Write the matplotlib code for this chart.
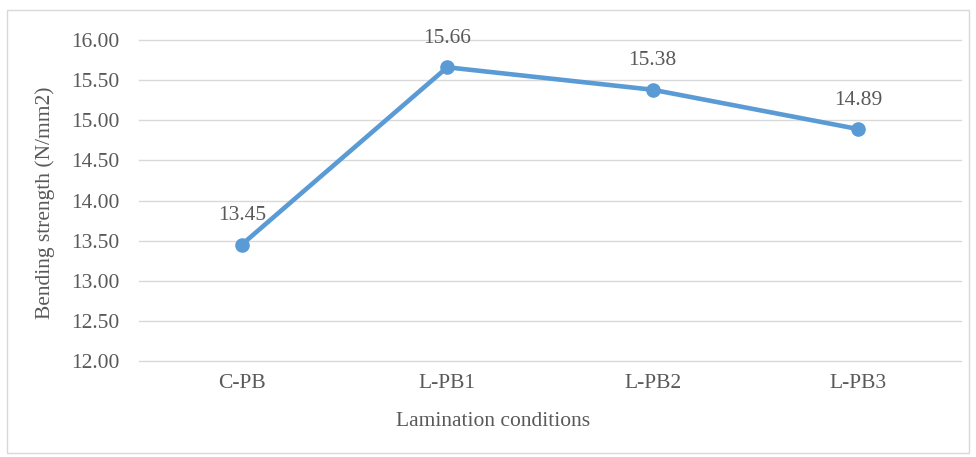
import matplotlib.pyplot as plt
from matplotlib.patches import Rectangle

# data
conditions = ["C-PB", "L-PB1", "L-PB2", "L-PB3"]
strength = [13.45, 15.66, 15.38, 14.89]
y_ticks = [12.00, 12.50, 13.00, 13.50, 14.00, 14.50, 15.00, 15.50, 16.00]

plt.rcParams['font.family'] = ['Liberation Serif', 'DejaVu Serif']
text_col = '#595959'
line_col = '#5B9BD5'
fs = 15.5

fig = plt.figure(figsize=(9.76, 4.57), dpi=100)
ax = fig.add_axes([139 / 976, 1 - 361 / 457, 822 / 976, 321 / 457])

# outer chart border
fig.patches.append(Rectangle((7 / 976, 4 / 457), 962 / 976, 443 / 457,
                             transform=fig.transFigure, fill=False,
                             edgecolor='#D9D9D9', linewidth=1))

x = list(range(len(conditions)))
ax.plot(x, strength, color=line_col, linewidth=3.3, marker='o',
        markersize=9.5, solid_capstyle='round', zorder=3)
for xi, yi in zip(x, strength):
    ax.annotate("{:.2f}".format(yi), (xi, yi), xytext=(0, 14),
                textcoords='offset points', ha='center', va='bottom',
                fontsize=fs, color=text_col)

ax.set_xlim(-0.5, len(conditions) - 0.5)
ax.set_ylim(12, 16)
ax.set_yticks(y_ticks)
ax.set_yticklabels(["{:.2f}".format(v) for v in y_ticks])
ax.set_xticks(x)
ax.set_xticklabels(conditions)
ax.tick_params(length=0, labelsize=fs, labelcolor=text_col)
ax.tick_params(axis='y', pad=14)
ax.tick_params(axis='x', pad=9)
ax.grid(axis='y', color='#D9D9D9', linewidth=1)
for gl in ax.get_ygridlines():
    gl.set_clip_on(False)
ax.set_axisbelow(True)
for s in ax.spines.values():
    s.set_visible(False)

# axis titles are centred on the whole chart area, as in Excel
fig.text(493 / 976, 1 - 422 / 457, "Lamination conditions", fontsize=fs,
         color=text_col, ha='center', va='center')
fig.text(45 / 976, 1 - 203 / 457, "Bending strength (N/mm2)", fontsize=fs,
         color=text_col, ha='center', va='center', rotation=90)

fig.savefig("out.png", dpi=100)
